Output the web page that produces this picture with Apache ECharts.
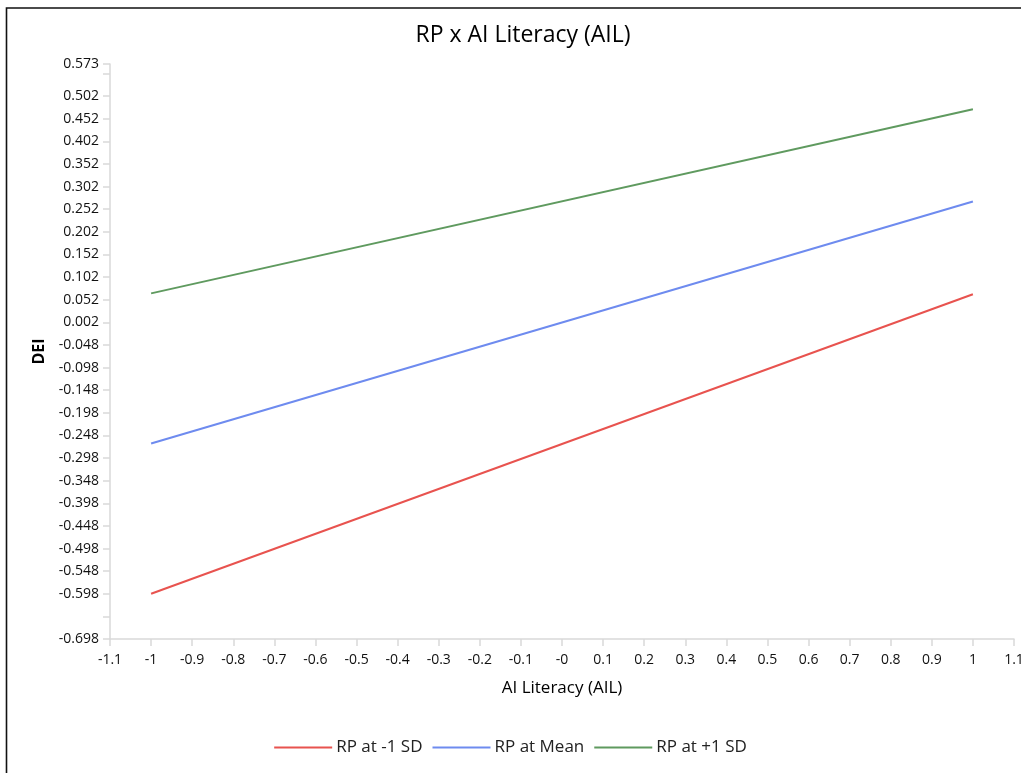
<!DOCTYPE html>
<html>
<head>
<meta charset="utf-8">
<script src="https://cdn.jsdelivr.net/npm/echarts@6/dist/echarts.min.js"></script>
<style>html,body{margin:0;padding:0;background:#fff;}#c{width:1021px;height:773px;}</style>
</head>
<body>
<div id="c"></div>
<script>
const xValues = [-1, 1];
const seriesNames = ['RP at -1 SD', 'RP at Mean', 'RP at +1 SD'];
const redValues = [-0.598, 0.064];
const blueValues = [-0.266, 0.269];
const greenValues = [0.066, 0.473];
const xTicks = [-1.1,-1,-0.9,-0.8,-0.7,-0.6,-0.5,-0.4,-0.3,-0.2,-0.1,0,0.1,0.2,0.3,0.4,0.5,0.6,0.7,0.8,0.9,1,1.1];
const xTickLabels = ['-1.1','-1','-0.9','-0.8','-0.7','-0.6','-0.5','-0.4','-0.3','-0.2','-0.1','-0','0.1','0.2','0.3','0.4','0.5','0.6','0.7','0.8','0.9','1','1.1'];
const yTicks = [-0.698,-0.648,-0.598,-0.548,-0.498,-0.448,-0.398,-0.348,-0.298,-0.248,-0.198,-0.148,-0.098,-0.048,0.002,0.052,0.102,0.152,0.202,0.252,0.302,0.352,0.402,0.452,0.502,0.552,0.573];
const yTickLabels = ['-0.698','','-0.598','-0.548','-0.498','-0.448','-0.398','-0.348','-0.298','-0.248','-0.198','-0.148','-0.098','-0.048','0.002','0.052','0.102','0.152','0.202','0.252','0.302','0.352','0.402','0.452','0.502','','0.573'];
const colors = ['#e8534f', '#6e8bef', '#5f9a5f'];

const font = "'Open Sans', 'Noto Sans', sans-serif";
const yLabelValues = yTicks.filter((v, i) => yTickLabels[i] !== '');
function labelFor(ticks, labels, v) {
  let best = 0, bd = Infinity;
  ticks.forEach((t, i) => { const d = Math.abs(t - v); if (d < bd) { bd = d; best = i; } });
  return labels[best];
}
const chart = echarts.init(document.getElementById('c'), null, {renderer: 'canvas'});
const mk = (name, vals, color) => ({
  name: name, type: 'line', data: xValues.map((x, i) => [x, vals[i]]),
  showSymbol: false, symbol: 'none', lineStyle: {color: color, width: 2}, itemStyle: {color: color},
  emphasis: {disabled: true}, animation: false
});
chart.setOption({
  animation: false,
  backgroundColor: '#fff',
  title: {
    text: 'RP x AI Literacy (AIL)', left: 518, textAlign: 'center', top: 19,
    textStyle: {fontFamily: font, fontSize: 23, fontWeight: 'normal', color: '#000'}
  },
  graphic: [{
    type: 'polyline', silent: true,
    shape: {points: [[6.5, 773], [6.5, 8], [1021, 8]]},
    style: {stroke: '#111', lineWidth: 1.6, fill: null}
  }],
  legend: {
    bottom: 12, left: 'center', itemWidth: 58, itemHeight: 2, itemGap: 10,
    icon: 'rect',
    data: seriesNames,
    textStyle: {fontFamily: font, fontSize: 17, color: '#222', padding: [0, 0, 0, -1]}
  },
  grid: {left: 110, right: 7, top: 64, bottom: 134, containLabel: false, outerBoundsMode: 'none'},
  xAxis: {
    type: 'value', min: -1.1, max: 1.1,
    name: 'AI Literacy (AIL)', nameLocation: 'middle', nameGap: 41,
    nameTextStyle: {fontFamily: font, fontSize: 17, color: '#000'},
    axisLine: {show: true, onZero: false, lineStyle: {color: '#d9d9d9', width: 1.5}},
    axisTick: {show: true, length: 7, customValues: xTicks, lineStyle: {color: '#d9d9d9', width: 1.5}},
    axisLabel: {
      customValues: xTicks, margin: 14, fontFamily: font, fontSize: 14, color: '#111',
      formatter: v => labelFor(xTicks, xTickLabels, v)
    },
    splitLine: {show: false}
  },
  yAxis: {
    type: 'value', min: -0.698, max: 0.573,
    name: 'DEI', nameLocation: 'middle', nameGap: 62, nameRotate: 90,
    nameTextStyle: {fontFamily: font, fontSize: 16, fontWeight: 'bold', color: '#000'},
    axisLine: {show: true, onZero: false, lineStyle: {color: '#d9d9d9', width: 1.5}},
    axisTick: {show: true, length: 7, customValues: yTicks, lineStyle: {color: '#d9d9d9', width: 1.5}},
    axisLabel: {
      customValues: yLabelValues, margin: 11, fontFamily: font, fontSize: 14, color: '#111',
      formatter: v => labelFor(yTicks, yTickLabels, v)
    },
    splitLine: {show: false}
  },
  series: [
    mk(seriesNames[0], redValues, colors[0]),
    mk(seriesNames[1], blueValues, colors[1]),
    mk(seriesNames[2], greenValues, colors[2])
  ]
});
</script>
</body>
</html>
